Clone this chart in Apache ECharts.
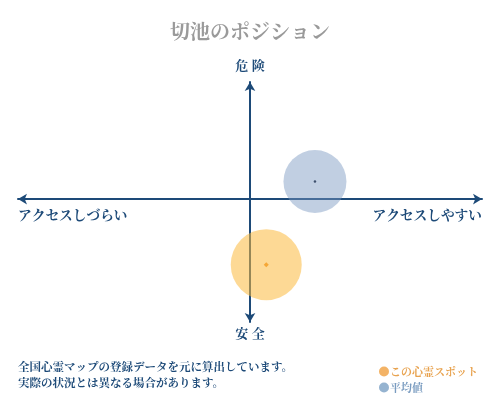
<!DOCTYPE html>
<html>
<head>
<meta charset="utf-8">
<script src="https://cdn.jsdelivr.net/npm/echarts@6/dist/echarts.min.js"></script>
<style>
  html, body { margin: 0; padding: 0; background: #fff; }
  #main { width: 500px; height: 400px; }
</style>
</head>
<body>
<div id="main"></div>
<script>
// データ
const seriesNames = ["この心霊スポット", "平均値"];
const spotPoint = [0.07, -0.56];   // [アクセス, 危険度]
const avgPoint = [0.28, 0.15];
const bubbleSizes = [71, 63];
const axisLabels = { top: "危険", bottom: "安全", left: "アクセスしづらい", right: "アクセスしやすい" };
const notes = ["全国心霊マップの登録データを元に算出しています。", "実際の状況とは異なる場合があります。"];

const FONT = '"Noto Serif CJK JP", "Noto Sans CJK JP", serif';
const NAVY = "#1d4a78";

const chart = echarts.init(document.getElementById("main"));

const axisCommon = {
  type: "value",
  axisLine: {
    onZero: true,
    symbol: ["arrow", "arrow"],
    symbolSize: [8, 9],
    lineStyle: { color: NAVY, width: 2 }
  },
  axisTick: { show: false },
  axisLabel: { show: false },
  splitLine: { show: false }
};

const option = {
  backgroundColor: "#fff",
  animation: false,
  title: {
    text: "切池のポジション",
    left: "center",
    top: 16,
    textStyle: { fontFamily: FONT, fontSize: 20, fontWeight: "bold", color: "#9a9a9a" }
  },
  legend: {
    orient: "vertical",
    left: 374,
    top: 361,
    itemWidth: 10,
    itemHeight: 10,
    itemGap: 5,
    icon: "circle",
    data: [
      { name: seriesNames[0], itemStyle: { color: "#f0a040" }, textStyle: { color: "#e8a350" } },
      { name: seriesNames[1], itemStyle: { color: "#7aa0c4" }, textStyle: { color: "#7a9cc0" } }
    ],
    textStyle: { fontFamily: FONT, fontSize: 11, fontWeight: "bold", padding: [0, 0, 0, -4] }
  },
  grid: { left: 18, right: 18, top: 82, bottom: 78 },
  xAxis: Object.assign({}, axisCommon, { min: -1, max: 1 }),
  yAxis: Object.assign({}, axisCommon, { min: -1.05, max: 1 }),
  series: [
    {
      name: seriesNames[0],
      type: "scatter",
      z: 1,
      symbolSize: bubbleSizes[0],
      itemStyle: { color: "rgba(252, 184, 60, 0.68)" },
      data: [spotPoint]
    },
    {
      name: seriesNames[1],
      type: "scatter",
      z: 1,
      symbolSize: bubbleSizes[1],
      itemStyle: { color: "rgba(120, 152, 192, 0.58)" },
      data: [avgPoint]
    },
    {
      name: "spotCenter",
      type: "scatter",
      z: 3,
      symbol: "diamond",
      symbolSize: 5,
      itemStyle: { color: "#f29a1e" },
      data: [spotPoint]
    },
    {
      name: "avgCenter",
      type: "scatter",
      z: 3,
      symbolSize: 2.5,
      itemStyle: { color: "#1d3050" },
      data: [avgPoint]
    }
  ],
  graphic: [
    { type: "text", left: "center", top: 59, style: { text: axisLabels.top.split("").join(" "), font: "bold 13px " + FONT, fill: NAVY } },
    { type: "text", left: "center", top: 327, style: { text: axisLabels.bottom.split("").join(" "), font: "bold 13px " + FONT, fill: NAVY } },
    { type: "text", left: 18, top: 208, style: { text: axisLabels.left, font: "bold 13.7px " + FONT, fill: NAVY } },
    { type: "text", right: 18, top: 208, style: { text: axisLabels.right, font: "bold 13.7px " + FONT, fill: NAVY } },
    { type: "text", left: 18, top: 361, style: { text: notes[0], font: "bold 11.5px " + FONT, fill: NAVY } },
    { type: "text", left: 18, top: 377, style: { text: notes[1], font: "bold 11.5px " + FONT, fill: NAVY } }
  ]
};

chart.setOption(option);
</script>
</body>
</html>
